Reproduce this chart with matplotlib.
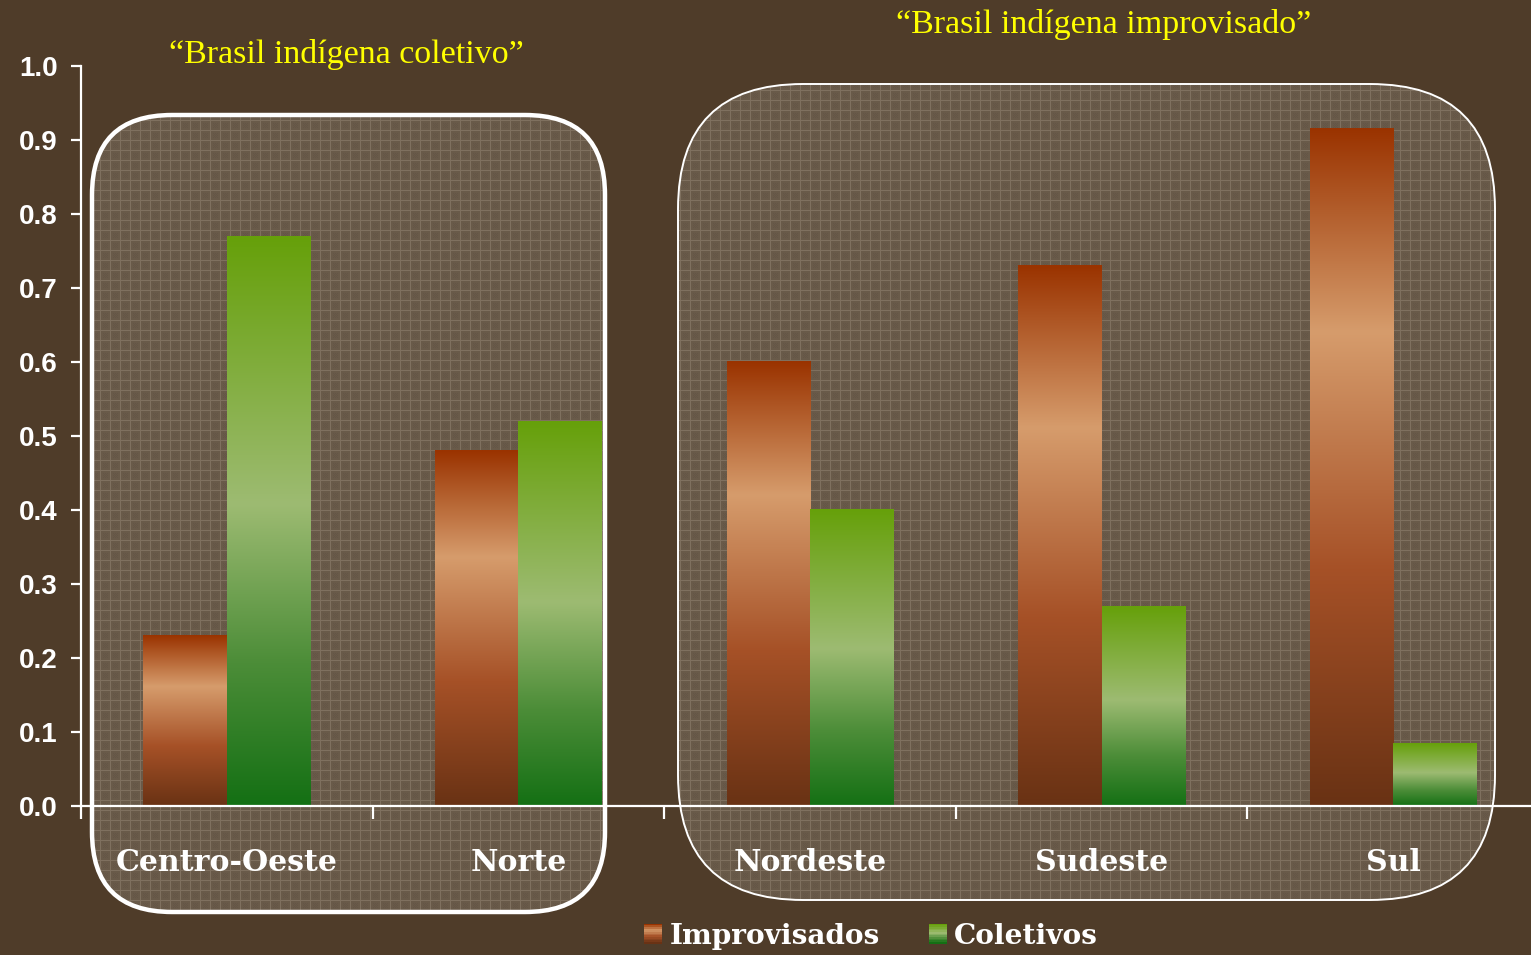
import numpy as np
import matplotlib
matplotlib.use("Agg")
import matplotlib.pyplot as plt
from matplotlib.colors import LinearSegmentedColormap
from matplotlib.patches import FancyBboxPatch, Rectangle
from matplotlib.legend_handler import HandlerBase

regions = ["Centro-Oeste", "Norte", "Nordeste", "Sudeste", "Sul"]
improvisados = [0.23, 0.48, 0.60, 0.73, 0.915]
coletivos = [0.77, 0.52, 0.40, 0.27, 0.085]
y_ticks = [0.0, 0.1, 0.2, 0.3, 0.4, 0.5, 0.6, 0.7, 0.8, 0.9, 1.0]
series_names = ["Improvisados", "Coletivos"]
group_titles = ["\u201cBrasil ind\u00edgena coletivo\u201d", "\u201cBrasil ind\u00edgena improvisado\u201d"]

BG = "#4f3c29"
BOX_FILL = (0.415, 0.355, 0.29)
BOX_LINE = (0.50, 0.44, 0.375)

brown_cmap = LinearSegmentedColormap.from_list(
    "brown", [(0.0, "#9a3300"), (0.30, "#d69c6c"), (0.65, "#a65127"), (1.0, "#693214")])
green_cmap = LinearSegmentedColormap.from_list(
    "green", [(0.0, "#66a00a"), (0.47, "#9dbb72"), (0.75, "#4c8d38"), (1.0, "#147014")])

W, H = 1531, 955
fig = plt.figure(figsize=(W / 100, H / 100), dpi=100, facecolor=BG)

# background layer in pixel coordinates: textured rounded boxes
bg = fig.add_axes([0, 0, 1, 1], zorder=0)
bg.set_xlim(0, W)
bg.set_ylim(H, 0)
bg.axis("off")

tex = np.ones((H, W, 3)) * np.array(BOX_FILL)
yy, xx = np.mgrid[0:H, 0:W]
checker = ((xx + yy) % 2 == 0) & ((xx % 10 > 2) & (xx % 10 < 8) & (yy % 10 > 2) & (yy % 10 < 8))
tex[checker] *= 0.95
tex[(xx % 10 == 0) | (yy % 10 == 0)] = BOX_LINE

boxes = [(92, 115, 513, 797, 80, 3.2), (678, 84, 817, 816, 125, 1.4)]
for x0, y0, w, h, r, lw in boxes:
    style = f"round,pad=0,rounding_size={r}"
    p = FancyBboxPatch((x0, y0), w, h, boxstyle=style, facecolor="none", edgecolor="none")
    bg.add_patch(p)
    im = bg.imshow(tex, extent=[0, W, H, 0], interpolation="nearest", zorder=1)
    im.set_clip_path(p)
    bg.add_patch(FancyBboxPatch((x0, y0), w, h, boxstyle=style, facecolor="none",
                                edgecolor="white", linewidth=lw, zorder=2))
    bg.set_xlim(0, W)
    bg.set_ylim(H, 0)

# main axes
ax = fig.add_axes([81 / W, (H - 806) / H, (1539 - 81) / W, 740 / H], zorder=2)
ax.patch.set_visible(False)
x = np.arange(len(regions))
bw = 0.286
b1 = ax.bar(x - bw / 2, improvisados, bw, color="none", zorder=3)
b2 = ax.bar(x + bw / 2, coletivos, bw, color="none", zorder=3)
grad = np.linspace(0, 1, 256).reshape(-1, 1)
for bars, cmap in [(b1, brown_cmap), (b2, green_cmap)]:
    for b in bars:
        x0, w, hgt = b.get_x(), b.get_width(), b.get_height()
        ax.imshow(grad, cmap=cmap, aspect="auto", extent=[x0, x0 + w, 0, hgt],
                  zorder=3, interpolation="bilinear")

ax.set_xlim(-0.5, 4.5)
ax.set_ylim(0, 1.0)
for s in ["top", "right"]:
    ax.spines[s].set_visible(False)
for s in ["left", "bottom"]:
    ax.spines[s].set_color("white")
    ax.spines[s].set_linewidth(1.6)
    ax.spines[s].set_zorder(5)

ax.set_yticks(y_ticks)
ax.set_yticklabels([f"{v:.1f}" for v in y_ticks], fontsize=20, fontweight="bold",
                   color="white", family="Liberation Sans")
ax.tick_params(axis="y", colors="white", length=7, width=1.6, pad=10)

ax.set_xticks(np.arange(-0.5, 5, 1.0))
ax.set_xticklabels([])
ax.tick_params(axis="x", which="major", colors="white", length=9, width=1.6, direction="out")
ax.set_xticks(x, minor=True)
ax.set_xticklabels(regions, minor=True, fontsize=21.6, fontweight="bold", color="white",
                   family="DejaVu Serif")
ax.tick_params(axis="x", which="minor", length=0, pad=30)

# group titles
fig.text(346 / W, 1 - 54 / H, group_titles[0], color="#ffff00", fontsize=24.5,
         family="Liberation Serif", ha="center", va="center")
fig.text(1104 / W, 1 - 24 / H, group_titles[1], color="#ffff00", fontsize=24.5,
         family="Liberation Serif", ha="center", va="center")


class GradHandler(HandlerBase):
    def __init__(self, cmap):
        super().__init__()
        self.cmap = cmap

    def create_artists(self, legend, orig, xd, yd, width, height, fontsize, trans):
        n = 12
        arts = []
        for i in range(n):
            c = self.cmap(i / (n - 1))
            r = Rectangle((xd, yd + height * (n - 1 - i) / n), width, height / n,
                          facecolor=c, edgecolor="none", transform=trans)
            arts.append(r)
        return arts


h1 = Rectangle((0, 0), 1, 1)
h2 = Rectangle((0, 0), 1, 1)
leg = fig.legend([h1, h2], series_names, loc="center", bbox_to_anchor=(871 / W, 1 - 936 / H),
                 ncol=2, frameon=False, handler_map={h1: GradHandler(brown_cmap), h2: GradHandler(green_cmap)},
                 handlelength=0.65, handleheight=0.7, handletextpad=0.25, columnspacing=1.75,
                 prop={"family": "DejaVu Serif", "weight": "bold", "size": 20.2})
for t in leg.get_texts():
    t.set_color("white")

fig.savefig("out.png", dpi=100, facecolor=BG)
